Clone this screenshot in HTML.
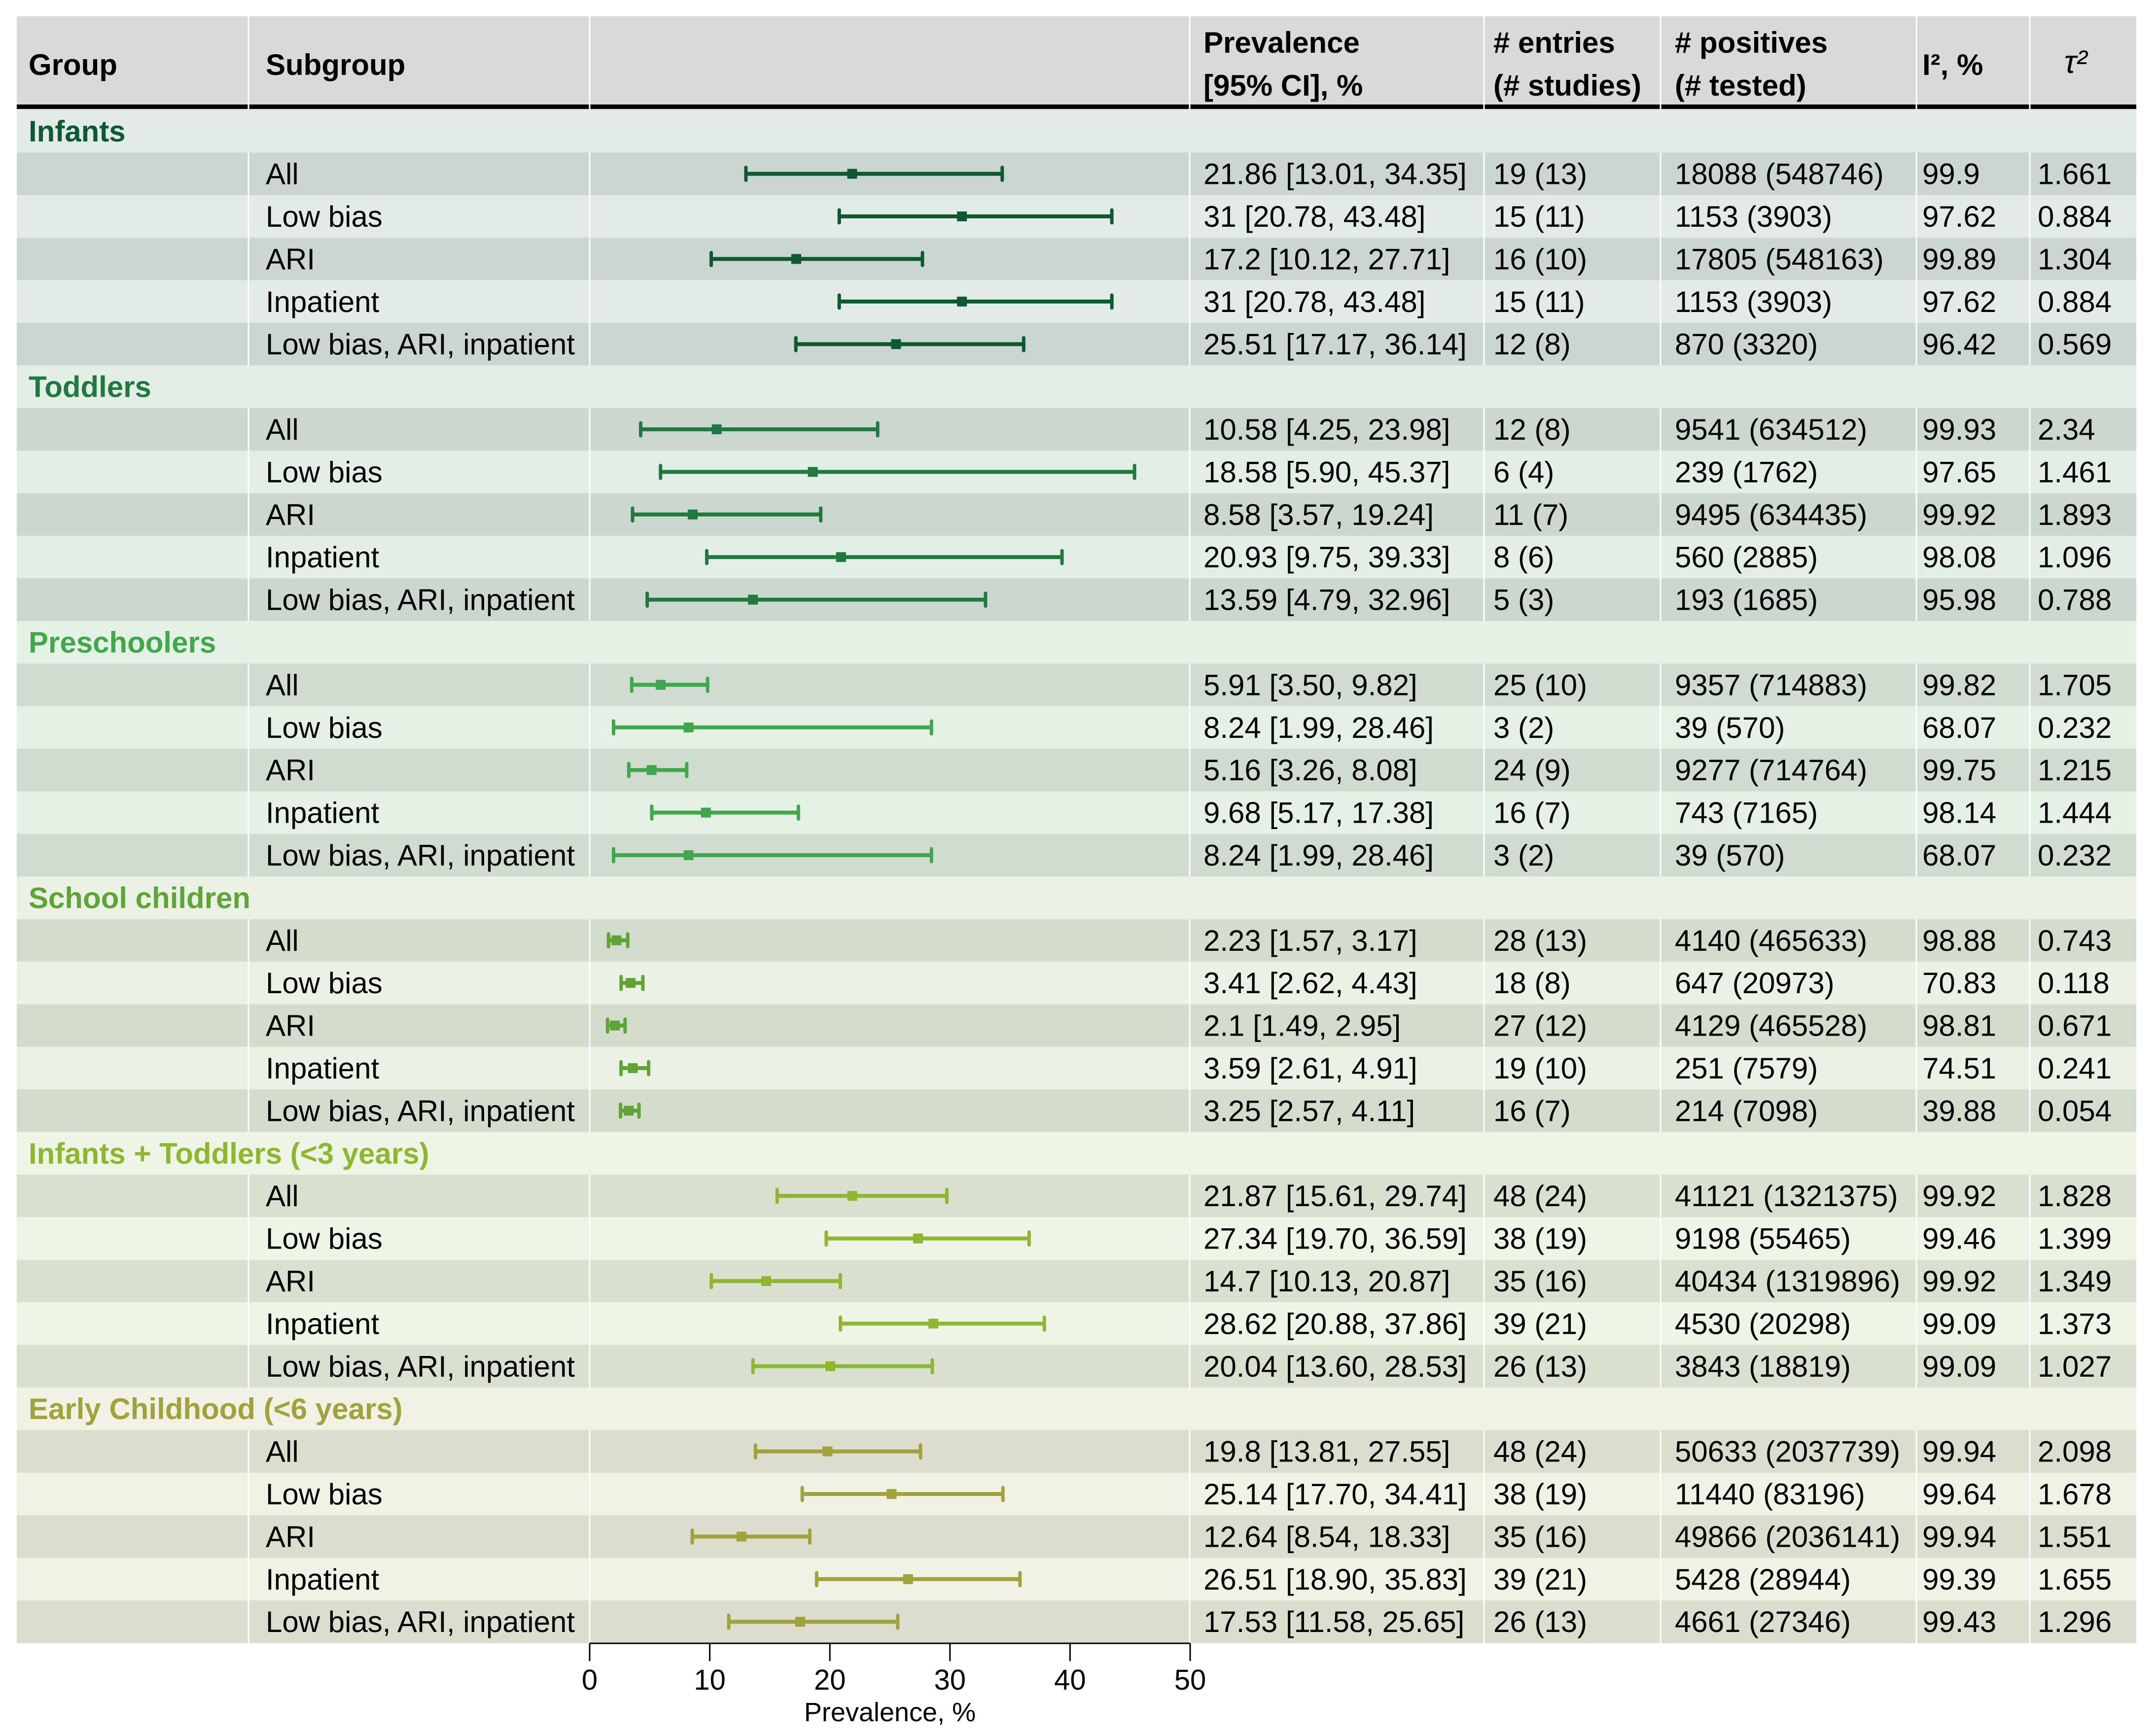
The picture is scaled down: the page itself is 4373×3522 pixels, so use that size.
<!DOCTYPE html>
<html><head><meta charset="utf-8"><style>
html,body{margin:0;padding:0;background:#fff}
svg{display:block}
text{font-family:"Liberation Sans",Arial,sans-serif}
</style></head><body>
<svg id="chart" width="4373" height="3522" viewBox="0 0 4373 3522" xmlns="http://www.w3.org/2000/svg"></svg>
<script>
const groups = ["Infants","Toddlers","Preschoolers","School children","Infants + Toddlers (<3 years)","Early Childhood (<6 years)"];
const groupColors = ["#0d5a30","#1f7a3e","#3ea84a","#5ea535","#8db82e","#a2a23a"];
const darkBg = ["#cbd5d2","#ccd8cf","#d0dccf","#d4dcce","#dae0cf","#dcdccf"];
const lightBg = ["#e2ebe8","#e3eee7","#e6f1e6","#ebf2e5","#eff5e6","#f1f1e6"];
const subgroups = ["All","Low bias","ARI","Inpatient","Low bias, ARI, inpatient"];
const est = [[21.86,31,17.2,31,25.51],[10.58,18.58,8.58,20.93,13.59],[5.91,8.24,5.16,9.68,8.24],[2.23,3.41,2.1,3.59,3.25],[21.87,27.34,14.7,28.62,20.04],[19.8,25.14,12.64,26.51,17.53]];
const lower = [[13.01,20.78,10.12,20.78,17.17],[4.25,5.90,3.57,9.75,4.79],[3.50,1.99,3.26,5.17,1.99],[1.57,2.62,1.49,2.61,2.57],[15.61,19.70,10.13,20.88,13.60],[13.81,17.70,8.54,18.90,11.58]];
const upper = [[34.35,43.48,27.71,43.48,36.14],[23.98,45.37,19.24,39.33,32.96],[9.82,28.46,8.08,17.38,28.46],[3.17,4.43,2.95,4.91,4.11],[29.74,36.59,20.87,37.86,28.53],[27.55,34.41,18.33,35.83,25.65]];
const prevText = [["21.86 [13.01, 34.35]","31 [20.78, 43.48]","17.2 [10.12, 27.71]","31 [20.78, 43.48]","25.51 [17.17, 36.14]"],["10.58 [4.25, 23.98]","18.58 [5.90, 45.37]","8.58 [3.57, 19.24]","20.93 [9.75, 39.33]","13.59 [4.79, 32.96]"],["5.91 [3.50, 9.82]","8.24 [1.99, 28.46]","5.16 [3.26, 8.08]","9.68 [5.17, 17.38]","8.24 [1.99, 28.46]"],["2.23 [1.57, 3.17]","3.41 [2.62, 4.43]","2.1 [1.49, 2.95]","3.59 [2.61, 4.91]","3.25 [2.57, 4.11]"],["21.87 [15.61, 29.74]","27.34 [19.70, 36.59]","14.7 [10.13, 20.87]","28.62 [20.88, 37.86]","20.04 [13.60, 28.53]"],["19.8 [13.81, 27.55]","25.14 [17.70, 34.41]","12.64 [8.54, 18.33]","26.51 [18.90, 35.83]","17.53 [11.58, 25.65]"]];
const entries = [["19 (13)","15 (11)","16 (10)","15 (11)","12 (8)"],["12 (8)","6 (4)","11 (7)","8 (6)","5 (3)"],["25 (10)","3 (2)","24 (9)","16 (7)","3 (2)"],["28 (13)","18 (8)","27 (12)","19 (10)","16 (7)"],["48 (24)","38 (19)","35 (16)","39 (21)","26 (13)"],["48 (24)","38 (19)","35 (16)","39 (21)","26 (13)"]];
const positives = [["18088 (548746)","1153 (3903)","17805 (548163)","1153 (3903)","870 (3320)"],["9541 (634512)","239 (1762)","9495 (634435)","560 (2885)","193 (1685)"],["9357 (714883)","39 (570)","9277 (714764)","743 (7165)","39 (570)"],["4140 (465633)","647 (20973)","4129 (465528)","251 (7579)","214 (7098)"],["41121 (1321375)","9198 (55465)","40434 (1319896)","4530 (20298)","3843 (18819)"],["50633 (2037739)","11440 (83196)","49866 (2036141)","5428 (28944)","4661 (27346)"]];
const i2 = [["99.9","97.62","99.89","97.62","96.42"],["99.93","97.65","99.92","98.08","95.98"],["99.82","68.07","99.75","98.14","68.07"],["98.88","70.83","98.81","74.51","39.88"],["99.92","99.46","99.92","99.09","99.09"],["99.94","99.64","99.94","99.39","99.43"]];
const tau2 = [["1.661","0.884","1.304","0.884","0.569"],["2.34","1.461","1.893","1.096","0.788"],["1.705","0.232","1.215","1.444","0.232"],["0.743","0.118","0.671","0.241","0.054"],["1.828","1.399","1.349","1.373","1.027"],["2.098","1.678","1.551","1.655","1.296"]];
const xTicks = [0,10,20,30,40,50];

const svg = document.getElementById('chart');
const NS = "http://www.w3.org/2000/svg";
function mk(tag, attrs, parent){const e=document.createElementNS(NS,tag);for(const k in attrs)e.setAttribute(k,attrs[k]);(parent||svg).appendChild(e);return e;}
const cols=[34,504,1196,2413,3010,3368,3887,4117,4333];
const top0=223, rowH=86.4, plotL=1196, plotR=2414;
const xs = v => plotL + (v/50)*(plotR-plotL);
const rowY = i => top0 + i*rowH;
const GAP=3;

// header
for(let c=0;c<8;c++){
  const r=mk('rect',{x:cols[c]+(c?GAP/2:0),y:33,width:cols[c+1]-cols[c]-(c?GAP/2:0)-(c<7?GAP/2:0),height:190,fill:'#d9d9d9'});
  
  
  const l=mk('rect',{x:cols[c]+(c?GAP/2:0),y:212,width:cols[c+1]-cols[c]-(c?GAP/2:0)-(c<7?GAP/2:0),height:9,fill:'#000'});
  
  
}
function htext(x,y,s,name,extra){const t=mk('text',Object.assign({x:x,y:y,'font-size':60,'font-weight':'bold',fill:'#000'},extra||{}));t.textContent=s;return t;}
htext(58,152,"Group","header-group");
htext(539,152,"Subgroup","header-subgroup");
htext(2441,107,"Prevalence","header-prevalence");
htext(2441,194,"[95% CI], %","header-prevalence-ci");
htext(3029,107,"# entries","header-entries");
htext(3029,194,"(# studies)","header-studies");
htext(3397,107,"# positives","header-positives");
htext(3397,194,"(# tested)","header-tested");
const hi=htext(3899,152,"I², %","header-i2");
const ht=htext(4210,148,"τ²","header-tau2",{'text-anchor':'middle','font-family':'"Liberation Serif",serif','font-style':'italic','font-weight':'normal','font-size':66});

let ri=0;
groups.forEach((g,gi)=>{
  const y=rowY(ri);
  const gr=mk('rect',{x:34,y:y,width:4299,height:rowH+0.5,fill:lightBg[gi]});
  
  
  const gt=mk('text',{x:58,y:y+rowH/2+21,'font-size':60,'font-weight':'bold',fill:groupColors[gi]});
  gt.textContent=g;
  
  
  ri++;
  subgroups.forEach((s,si)=>{
    const y=rowY(ri);
    const bg = si%2===0?darkBg[gi]:lightBg[gi];
    for(let c=0;c<8;c++){
      const r=mk('rect',{x:cols[c]+(c?GAP/2:0),y:y,width:cols[c+1]-cols[c]-(c?GAP/2:0)-(c<7?GAP/2:0),height:rowH+0.5,fill:bg});
      
      
    }
    const ty=y+rowH/2+21;
    const vals=[[539,s,'subgroup-label'],[2441,prevText[gi][si],'prevalence-value'],[3029,entries[gi][si],'entries-value'],[3397,positives[gi][si],'positives-value'],[3899,i2[gi][si],'i2-value'],[4133,tau2[gi][si],'tau2-value']];
    vals.forEach(v=>{const t=mk('text',{x:v[0],y:ty,'font-size':60,fill:'#000'});t.textContent=v[1];});
    const cy=y+rowH/2;
    const col=groupColors[gi];
    const ln=mk('line',{x1:xs(lower[gi][si]),x2:xs(upper[gi][si]),y1:cy,y2:cy,stroke:col,'stroke-width':8});
    
    
    [lower[gi][si],upper[gi][si]].forEach(v=>{const c=mk('line',{x1:xs(v),x2:xs(v),y1:cy-13,y2:cy+13,stroke:col,'stroke-width':7,'stroke-linecap':'round'});});
    const p=mk('rect',{x:xs(est[gi][si])-10,y:cy-10,width:20,height:20,fill:col});
    
    
    ri++;
  });
});

// axis
const ax=mk('line',{x1:plotL,x2:plotR,y1:3334,y2:3334,stroke:'#000','stroke-width':3});


xTicks.forEach(t=>{
  const tk=mk('line',{x1:xs(t),x2:xs(t),y1:3334,y2:3370,stroke:'#000','stroke-width':3});
  
  
  const tl=mk('text',{x:xs(t),y:3428,'font-size':58,'text-anchor':'middle',fill:'#000'});
  tl.textContent=t;
  
  
});
const at=mk('text',{x:1805,y:3492,'font-size':54,'text-anchor':'middle',fill:'#000'});
at.textContent="Prevalence, %";


</script>
</body></html>
